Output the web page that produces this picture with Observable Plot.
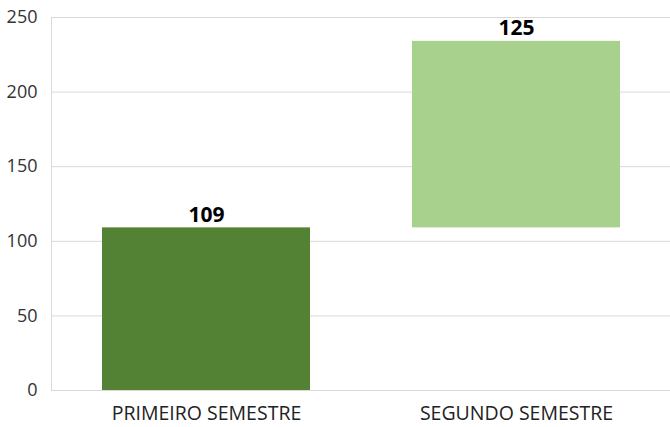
<!DOCTYPE html>
<html>
<head>
<meta charset="utf-8">
<script src="https://cdn.jsdelivr.net/npm/d3@7"></script>
<script src="https://cdn.jsdelivr.net/npm/@observablehq/plot@0.6"></script>
<style>
html,body{margin:0;padding:0;background:#fff;}
svg{display:block;overflow:visible;}
</style>
</head>
<body>
<div id="chart"></div>
<script>
const categories = ["PRIMEIRO SEMESTRE", "SEGUNDO SEMESTRE"];
const values = [109, 125];
const colors = ["#548235", "#a9d18e"];
const yTicks = [0, 50, 100, 150, 200, 250];

let acc = 0;
const data = categories.map((c, i) => {
  const start = acc;
  acc += values[i];
  return {cat: c, start, end: acc, value: values[i], color: colors[i]};
});

const chart = Plot.plot({
  width: 670,
  height: 427,
  marginLeft: 51,
  marginRight: -1,
  marginTop: 17,
  marginBottom: 37,
  style: {fontFamily: "'Open Sans', sans-serif", fontSize: "18px", color: "#333", background: "#fff"},
  x: {domain: categories, paddingInner: 0.33, paddingOuter: 0.165, label: null},
  y: {domain: [0, 250], ticks: yTicks, label: null},
  marks: [
    Plot.gridY(yTicks, {stroke: "#d9d9d9", strokeOpacity: 1, strokeWidth: 1}),
    Plot.frame({anchor: "left", stroke: "#d9d9d9", strokeOpacity: 1}),
    Plot.axisY({ticks: yTicks, tickSize: 0, tickPadding: 14, fontSize: 18, fill: "#333", label: null}),
    Plot.axisX({tickSize: 0, tickPadding: 16, fontSize: 19.5, fill: "#222", label: null}),
    Plot.barY(data, {x: "cat", y1: "start", y2: "end", fill: "color"}),
    Plot.text(data, {x: "cat", y: "end", text: d => String(d.value), dy: -13, fontSize: 21, fontWeight: "bold", fill: "#000"})
  ]
});
document.getElementById("chart").appendChild(chart);
</script>
</body>
</html>
